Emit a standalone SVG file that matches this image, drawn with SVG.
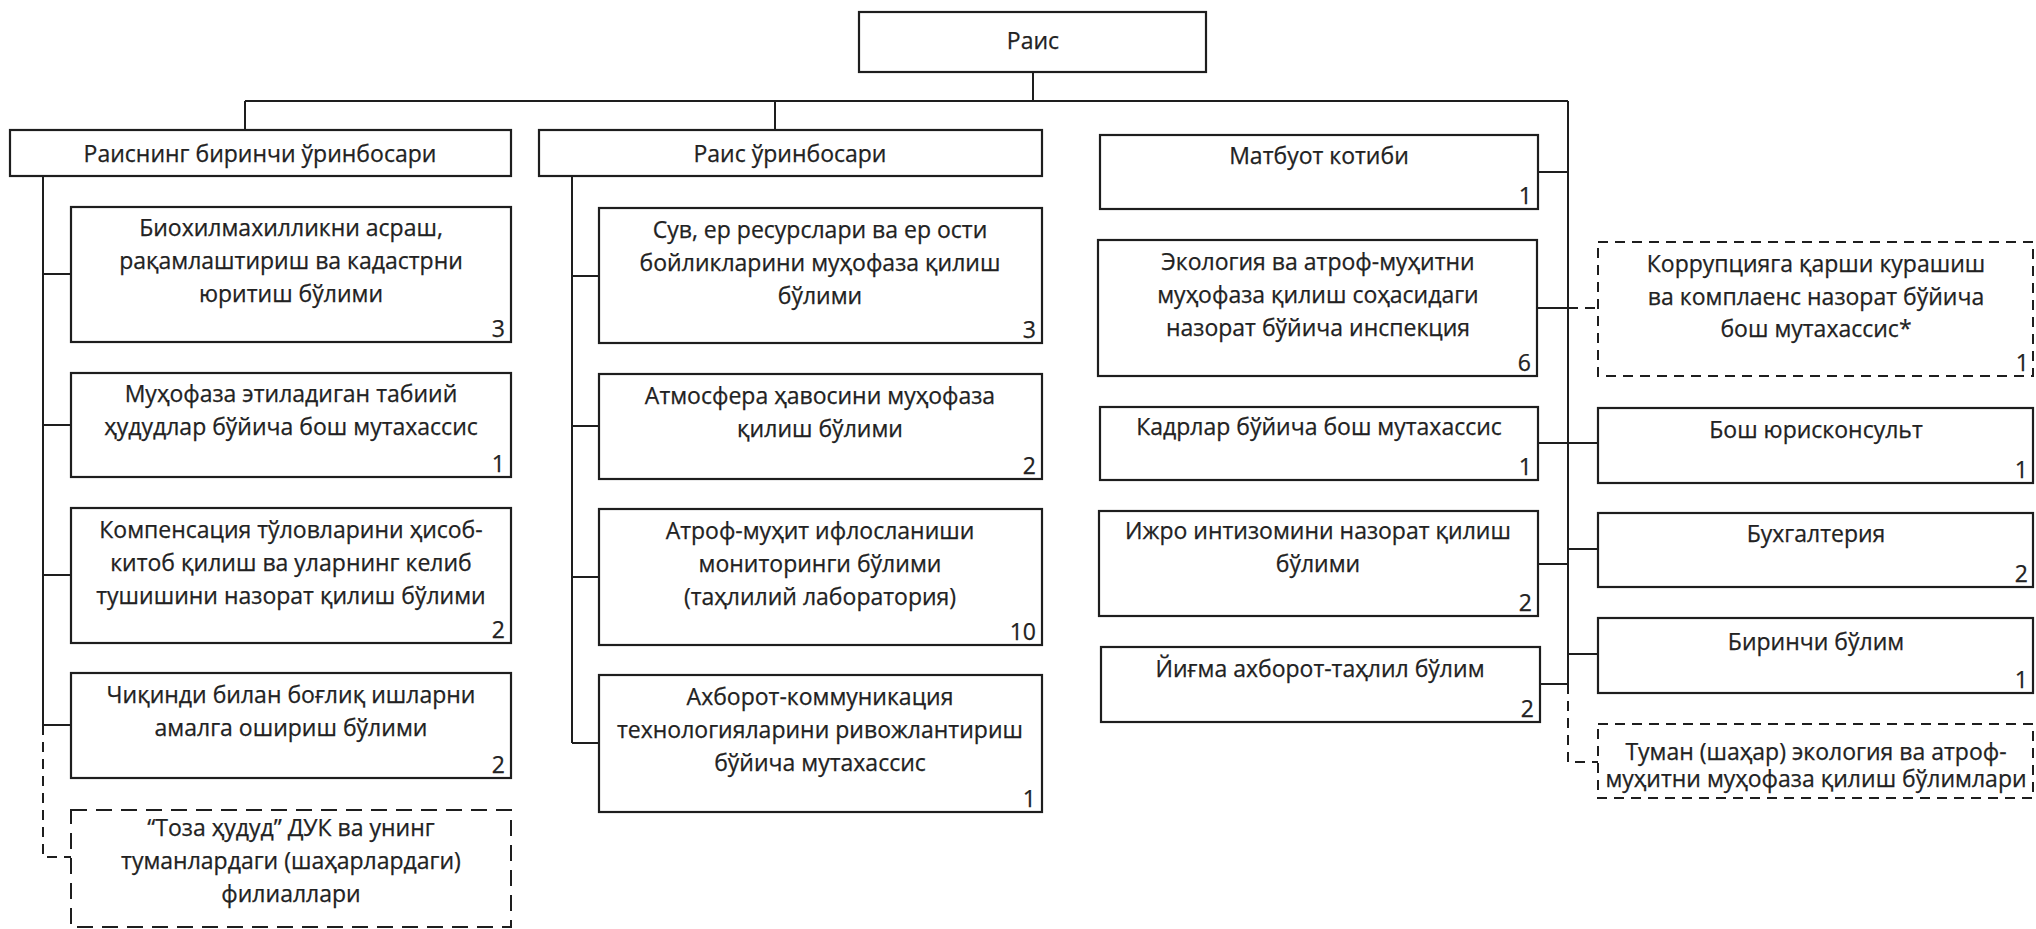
<svg xmlns="http://www.w3.org/2000/svg" width="2036" height="929" viewBox="0 0 2036 929">
<style>
  .box { fill: #fff; stroke: #1e1e1e; stroke-width: 2.2; }
  .dbox { fill: #fff; stroke: #1e1e1e; stroke-width: 2; stroke-dasharray: 10 7; }
  .dbox2 { fill: #fff; stroke: #1e1e1e; stroke-width: 2; stroke-dasharray: 16 9; }
  .ln { fill: none; stroke: #1e1e1e; stroke-width: 2; }
  .dln { fill: none; stroke: #1e1e1e; stroke-width: 2; stroke-dasharray: 10 7; }
  text { font-family: "Open Sans", "Noto Sans", "DejaVu Sans", sans-serif; font-size: 23px; fill: #222; stroke: #222; stroke-width: 0.25; }
  .c { text-anchor: middle; }
  .n { text-anchor: end; }
</style>
<rect width="2036" height="929" fill="#fff"/>

<g id="connectors">
  <path class="ln" d="M1033 72 V101 M245 101 H1568 M245 101 V130 M775 101 V130"/>
  <path class="ln" d="M43 176 V725 M43 274 H71 M43 425 H71 M43 575 H71 M43 725 H71"/>
  <path class="dln" d="M43 725 V857 H71"/>
  <path class="ln" d="M572 176 V743 M572 276 H599 M572 426 H599 M572 577 H599 M572 743 H599"/>
  <path class="ln" d="M1568 101 V684 M1538 172 H1568 M1537 308 H1568 M1538 443 H1598 M1538 564 H1568 M1568 549 H1598 M1568 654 H1598 M1540 684 H1568"/>
  <path class="dln" d="M1568 308 H1598 M1568 684 V762 H1598"/>
</g>

<g id="rais">
  <rect class="box" x="859" y="12" width="347" height="60"/>
  <text class="c" x="1033" y="49">Раис</text>
</g>

<g id="deputy1">
  <rect class="box" x="10" y="130" width="501" height="46"/>
  <text class="c" x="260" y="162">Раиснинг биринчи ўринбосари</text>
</g>
<g id="deputy2">
  <rect class="box" x="539" y="130" width="503" height="46"/>
  <text class="c" x="790" y="162">Раис ўринбосари</text>
</g>

<g id="biodiv">
  <rect class="box" x="71" y="207" width="440" height="135"/>
  <text class="c" x="291" y="236">Биохилмахилликни асраш,</text>
  <text class="c" x="291" y="269">рақамлаштириш ва кадастрни</text>
  <text class="c" x="291" y="302">юритиш бўлими</text>
  <text class="n" x="505" y="337">3</text>
</g>
<g id="protected">
  <rect class="box" x="71" y="373" width="440" height="104"/>
  <text class="c" x="291" y="402">Муҳофаза этиладиган табиий</text>
  <text class="c" x="291" y="435">ҳудудлар бўйича бош мутахассис</text>
  <text class="n" x="505" y="472">1</text>
</g>
<g id="compensation">
  <rect class="box" x="71" y="508" width="440" height="135"/>
  <text class="c" x="291" y="538">Компенсация тўловларини ҳисоб-</text>
  <text class="c" x="291" y="571">китоб қилиш ва уларнинг келиб</text>
  <text class="c" x="291" y="604">тушишини назорат қилиш бўлими</text>
  <text class="n" x="505" y="638">2</text>
</g>
<g id="waste">
  <rect class="box" x="71" y="673" width="440" height="105"/>
  <text class="c" x="291" y="703">Чиқинди билан боғлиқ ишларни</text>
  <text class="c" x="291" y="736">амалга ошириш бўлими</text>
  <text class="n" x="505" y="773">2</text>
</g>
<g id="toza">
  <rect class="dbox2" x="71" y="810" width="440" height="117"/>
  <text class="c" x="291" y="836">“Тоза ҳудуд” ДУК ва унинг</text>
  <text class="c" x="291" y="869">туманлардаги (шаҳарлардаги)</text>
  <text class="c" x="291" y="902">филиаллари</text>
</g>

<g id="water">
  <rect class="box" x="599" y="208" width="443" height="135"/>
  <text class="c" x="820" y="238">Сув, ер ресурслари ва ер ости</text>
  <text class="c" x="820" y="271">бойликларини муҳофаза қилиш</text>
  <text class="c" x="820" y="304">бўлими</text>
  <text class="n" x="1036" y="338">3</text>
</g>
<g id="air">
  <rect class="box" x="599" y="374" width="443" height="105"/>
  <text class="c" x="820" y="404">Атмосфера ҳавосини муҳофаза</text>
  <text class="c" x="820" y="437">қилиш бўлими</text>
  <text class="n" x="1036" y="474">2</text>
</g>
<g id="monitoring">
  <rect class="box" x="599" y="509" width="443" height="136"/>
  <text class="c" x="820" y="539">Атроф-муҳит ифлосланиши</text>
  <text class="c" x="820" y="572">мониторинги бўлими</text>
  <text class="c" x="820" y="605">(таҳлилий лаборатория)</text>
  <text class="n" x="1036" y="640">10</text>
</g>
<g id="ict">
  <rect class="box" x="599" y="675" width="443" height="137"/>
  <text class="c" x="820" y="705">Ахборот-коммуникация</text>
  <text class="c" x="820" y="738">технологияларини ривожлантириш</text>
  <text class="c" x="820" y="771">бўйича мутахассис</text>
  <text class="n" x="1036" y="807">1</text>
</g>

<g id="press">
  <rect class="box" x="1100" y="135" width="438" height="74"/>
  <text class="c" x="1319" y="164">Матбуот котиби</text>
  <text class="n" x="1532" y="204">1</text>
</g>
<g id="inspection">
  <rect class="box" x="1098" y="240" width="439" height="136"/>
  <text class="c" x="1318" y="270">Экология ва атроф-муҳитни</text>
  <text class="c" x="1318" y="303">муҳофаза қилиш соҳасидаги</text>
  <text class="c" x="1318" y="336">назорат бўйича инспекция</text>
  <text class="n" x="1531" y="371">6</text>
</g>
<g id="hr">
  <rect class="box" x="1100" y="407" width="438" height="73"/>
  <text class="c" x="1319" y="435">Кадрлар бўйича бош мутахассис</text>
  <text class="n" x="1532" y="475">1</text>
</g>
<g id="discipline">
  <rect class="box" x="1099" y="511" width="439" height="105"/>
  <text class="c" x="1318" y="539">Ижро интизомини назорат қилиш</text>
  <text class="c" x="1318" y="572">бўлими</text>
  <text class="n" x="1532" y="611">2</text>
</g>
<g id="analytics">
  <rect class="box" x="1101" y="647" width="439" height="75"/>
  <text class="c" x="1320" y="677">Йиғма ахборот-таҳлил бўлим</text>
  <text class="n" x="1534" y="717">2</text>
</g>

<g id="anticorruption">
  <rect class="dbox" x="1598" y="242" width="435" height="134"/>
  <text class="c" x="1816" y="272">Коррупцияга қарши курашиш</text>
  <text class="c" x="1816" y="305">ва комплаенс назорат бўйича</text>
  <text class="c" x="1816" y="337">бош мутахассис*</text>
  <text class="n" x="2029" y="371">1</text>
</g>
<g id="legal">
  <rect class="box" x="1598" y="408" width="435" height="75"/>
  <text class="c" x="1816" y="438">Бош юрисконсульт</text>
  <text class="n" x="2028" y="478">1</text>
</g>
<g id="accounting">
  <rect class="box" x="1598" y="513" width="435" height="74"/>
  <text class="c" x="1816" y="542">Бухгалтерия</text>
  <text class="n" x="2028" y="582">2</text>
</g>
<g id="first-dept">
  <rect class="box" x="1598" y="618" width="435" height="75"/>
  <text class="c" x="1816" y="650">Биринчи бўлим</text>
  <text class="n" x="2028" y="688">1</text>
</g>
<g id="district">
  <rect class="dbox" x="1598" y="724" width="435" height="74"/>
  <text class="c" x="1816" y="760">Туман (шаҳар) экология ва атроф-</text>
  <text class="c" x="1816" y="787">муҳитни муҳофаза қилиш бўлимлари</text>
</g>
</svg>
